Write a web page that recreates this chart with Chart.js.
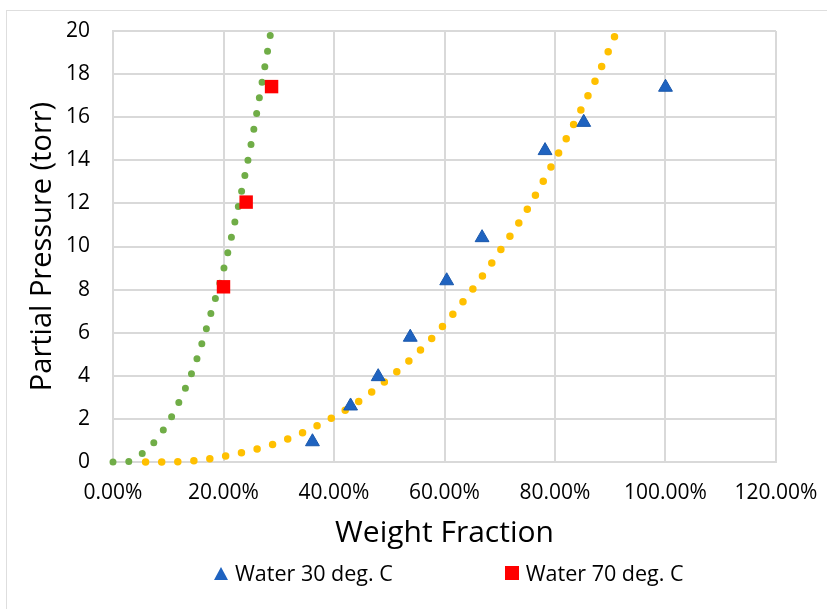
<!DOCTYPE html>
<html>
<head>
<meta charset="utf-8">
<title>Partial Pressure vs Weight Fraction</title>
<script src="https://cdn.jsdelivr.net/npm/chart.js@4.4.1/dist/chart.umd.min.js"></script>
<style>
    body { margin: 0; background: #fff; overflow: hidden; font-family: 'Open Sans', sans-serif; }
    #frame { position: absolute; left: 6px; top: 10px; width: 900px; height: 700px; border-top: 1px solid #dedede; border-left: 1px solid #dedede; }
    #chart { position: absolute; left: 0; top: 0; }
    #legend { position: absolute; left: 214px; top: 562px; display: flex; align-items: center; font-size: 21.5px; line-height: 22px; color: #000; white-space: nowrap; }
    .item { display: flex; align-items: center; margin-right: 112px; }
    .mark { margin-right: 7px; }
    .triangle { width: 0; height: 0; border-left: 7px solid transparent; border-right: 7px solid transparent; border-bottom: 13px solid #1F63C0; }
    .rect { width: 14px; height: 14px; background: #FF0000; }
</style>
</head>
<body>
<div id="frame"></div>
<canvas id="chart" width="827" height="609"></canvas>
<div id="legend"></div>
<script>
// Valeurs (fraction massique, pression en torr)
const water30X = [0.361, 0.430, 0.480, 0.538, 0.604, 0.668, 0.782, 0.852, 1.000];
const water30Y = [0.94, 2.60, 3.96, 5.79, 8.41, 10.41, 14.45, 15.76, 17.39];

const water70X = [0.200, 0.241, 0.287];
const water70Y = [8.13, 12.06, 17.42];

// Courbes de tendance (points relevés le long des pointillés)
const trend70X = [0, 0.029, 0.053, 0.074, 0.091, 0.106, 0.131, 0.152, 0.177, 0.201, 0.227, 0.250, 0.270, 0.285, 0.2875];
const trend70Y = [0, 0.03, 0.40, 0.90, 1.48, 2.10, 3.42, 4.79, 6.88, 9.02, 11.88, 14.76, 17.65, 19.85, 20.25];

const trend30X = [0.059, 0.118, 0.174, 0.230, 0.286, 0.339, 0.390, 0.439, 0.485, 0.529, 0.570, 0.608, 0.644, 0.678, 0.710, 0.742, 0.771, 0.798, 0.825, 0.851, 0.876, 0.899, 0.910, 0.915];
const trend30Y = [0, 0.01, 0.15, 0.42, 0.79, 1.31, 1.96, 2.71, 3.59, 4.53, 5.55, 6.64, 7.78, 8.96, 10.16, 11.40, 12.67, 13.94, 15.23, 16.55, 17.87, 19.20, 19.87, 20.15];

const xTickLabels = ['0.00%', '20.00%', '40.00%', '60.00%', '80.00%', '100.00%', '120.00%'];
const yTickLabels = ['0', '2', '4', '6', '8', '10', '12', '14', '16', '18', '20'];

const seriesLabels = ['Water 30 deg. C', 'Water 70 deg. C'];

function toPoints(xs, ys) {
    return xs.map((x, i) => ({ x: x, y: ys[i] }));
}

document.addEventListener('DOMContentLoaded', function() {
    Chart.defaults.font.family = "'Open Sans', sans-serif";
    Chart.defaults.color = '#000';

    const gridColor = '#d9d9d9';
    const ctx = document.getElementById('chart').getContext('2d');

    const chart = new Chart(ctx, {
        type: 'scatter',
        data: {
            datasets: [
                {
                    label: seriesLabels[0],
                    data: toPoints(water30X, water30Y),
                    pointStyle: 'triangle',
                    pointRadius: 8,
                    backgroundColor: '#1F63C0',
                    borderColor: '#1A58AC',
                    borderWidth: 1,
                    inLegend: true,
                    legendClass: 'triangle'
                },
                {
                    label: seriesLabels[1],
                    data: toPoints(water70X, water70Y),
                    pointStyle: 'rect',
                    pointRadius: 9.5,
                    backgroundColor: '#FF0000',
                    borderColor: '#FF0000',
                    borderWidth: 0,
                    inLegend: true,
                    legendClass: 'rect'
                },
                {
                    label: 'Tendance 70',
                    data: toPoints(trend70X, trend70Y),
                    showLine: true,
                    pointRadius: 0,
                    borderColor: '#70AD47',
                    borderWidth: 7,
                    borderDash: [0, 15.8],
                    borderCapStyle: 'round',
                    cubicInterpolationMode: 'monotone',
                    clip: 8
                },
                {
                    label: 'Tendance 30',
                    data: toPoints(trend30X, trend30Y),
                    showLine: true,
                    pointRadius: 0,
                    borderColor: '#FFC000',
                    borderWidth: 7.5,
                    borderDash: [0, 16.1],
                    borderCapStyle: 'round',
                    cubicInterpolationMode: 'monotone',
                    clip: 8
                }
            ]
        },
        options: {
            responsive: false,
            animation: false,
            layout: {
                padding: { top: 31, right: 51, bottom: 57, left: 0 }
            },
            plugins: {
                legend: { display: false },
                tooltip: { enabled: false }
            },
            scales: {
                x: {
                    type: 'linear',
                    min: 0,
                    max: 1.2,
                    afterFit: function(scale) { scale.height = 90; },
                    ticks: {
                        stepSize: 0.2,
                        padding: 2,
                        font: { size: 21 },
                        callback: function(value, index) { return xTickLabels[index]; }
                    },
                    // marques de graduation invisibles : elles servent d'espacement
                    grid: { color: gridColor, lineWidth: 2, drawTicks: true, tickLength: 16, tickColor: 'rgba(0,0,0,0)' },
                    border: { color: gridColor, width: 2 },
                    title: {
                        display: true,
                        text: 'Weight Fraction',
                        font: { size: 30, lineHeight: 1 },
                        padding: { top: 0, bottom: 4 }
                    }
                },
                y: {
                    min: 0,
                    max: 20,
                    afterFit: function(scale) { scale.width = 113; },
                    ticks: {
                        stepSize: 2,
                        padding: 3,
                        font: { size: 21 },
                        callback: function(value, index) { return yTickLabels[index]; }
                    },
                    grid: { color: gridColor, lineWidth: 2, drawTicks: true, tickLength: 20, tickColor: 'rgba(0,0,0,0)' },
                    border: { color: gridColor, width: 2 },
                    title: {
                        display: true,
                        text: 'Partial Pressure (torr)',
                        font: { size: 29, lineHeight: 1 },
                        padding: { top: 28, bottom: 0 }
                    }
                }
            }
        }
    });

    // Légende en HTML, construite à partir des séries du graphique
    const legend = document.getElementById('legend');
    chart.data.datasets.filter(ds => ds.inLegend).forEach(ds => {
        const item = document.createElement('div');
        item.className = 'item';
        item.innerHTML = `<span class="mark ${ds.legendClass}"></span><span>${ds.label}</span>`;
        legend.appendChild(item);
    });
});
</script>
</body>
</html>
